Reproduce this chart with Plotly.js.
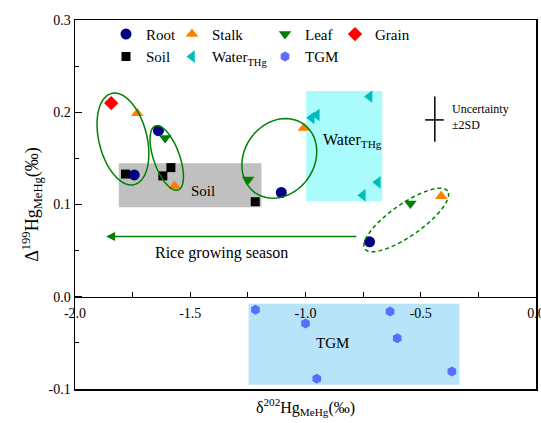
<!DOCTYPE html>
<html>
<head>
<meta charset="utf-8">
<script src="https://cdn.plot.ly/plotly-3.0.1.min.js"></script>
<style>html,body{margin:0;padding:0;background:#fff;}#chart{width:541px;height:423px;}</style>
</head>
<body>
<div id="chart"></div>
<script>
// ---- data ----
var rootX  = [-1.638, -1.743, -1.105, -0.722];
var rootY  = [0.180, 0.132, 0.113, 0.0595];
var stalkX = [-1.730, -1.568, -1.007, -0.411];
var stalkY = [0.199, 0.120, 0.183, 0.109];
var leafX  = [-1.609, -1.249, -0.545];
var leafY  = [0.172, 0.127, 0.101];
var grainX = [-1.843];
var grainY = [0.210];
var soilX  = [-1.781, -1.619, -1.584, -1.218];
var soilY  = [0.133, 0.131, 0.140, 0.103];
var waterX = [-0.722, -0.951, -0.973, -0.686, -0.751];
var waterY = [0.217, 0.197, 0.194, 0.124, 0.110];
var tgmX   = [-1.217, -1.000, -0.633, -0.602, -0.365, -0.951];
var tgmY   = [-0.014, -0.029, -0.016, -0.045, -0.081, -0.089];

var xTickVals = [-2.0, -1.5, -1.0, -0.5, 0.0];
var xTickText = ['-2.0', '-1.5', '-1.0', '-0.5', '0.0'];
var yTickVals = [-0.1, 0.0, 0.1, 0.2, 0.3];
var yTickText = ['-0.1', '0.0', '0.1', '0.2', '0.3'];

var FONT = '"Liberation Serif", "Times New Roman", serif';
var GREEN = '#008000';

// ---- traces ----
function tr(name, x, y, symbol, color, size, legend) {
  return {x: x, y: y, name: name, type: 'scatter', mode: 'markers',
    xaxis: 'x2', yaxis: 'y', legend: legend,
    marker: {symbol: symbol, color: color, size: size, line: {width: 0}}};
}
var data = [
  tr('Root', rootX, rootY, 'circle', '#000080', 11, 'legend'),
  tr('Soil', soilX, soilY, 'square', '#000000', 9, 'legend'),
  tr('Stalk', stalkX, stalkY, 'triangle-up', '#ff8000', 11, 'legend2'),
  tr('Water<sub>THg</sub>', waterX, waterY, 'triangle-left', '#00bcbc', 11, 'legend2'),
  tr('Leaf', leafX, leafY, 'triangle-down', GREEN, 11, 'legend3'),
  tr('TGM', tgmX, tgmY, 'hexagon', '#5b6cff', 10, 'legend3'),
  tr('Grain', grainX, grainY, 'diamond', '#ff0000', 11, 'legend4')
];

// ---- decorations ----
var KX = 230.5, KY = 922.5; // px per data unit
function ellipsePath(cx, cy, a, b, angDeg) {
  var th = angDeg * Math.PI / 180, p = '';
  for (var i = 0; i <= 72; i++) {
    var t = 2 * Math.PI * i / 72;
    var dx = a * Math.cos(t) * Math.cos(th) - b * Math.sin(t) * Math.sin(th);
    var dy = a * Math.cos(t) * Math.sin(th) + b * Math.sin(t) * Math.cos(th);
    p += (i === 0 ? 'M' : 'L') + (cx + dx / KX).toFixed(5) + ',' + (cy + dy / KY).toFixed(5);
  }
  return p + 'Z';
}
var shapes = [
  {type: 'rect', xref: 'x', yref: 'y', x0: -1.810, x1: -1.191, y0: 0.097, y1: 0.1447,
   fillcolor: '#c0c0c0', line: {width: 0}, layer: 'below'},
  {type: 'rect', xref: 'x', yref: 'y', x0: -0.997, x1: -0.667, y0: 0.1036, y1: 0.223,
   fillcolor: '#aafcfc', line: {width: 0}, layer: 'below'},
  {type: 'rect', xref: 'x', yref: 'y', x0: -1.247, x1: -0.332, y0: -0.0955, y1: -0.0077,
   fillcolor: '#b8e4fa', line: {width: 0}, layer: 'below'},
  {type: 'path', xref: 'x', yref: 'y', path: ellipsePath(-1.792, 0.171, 47, 24, 104), line: {color: GREEN, width: 1.5}},
  {type: 'path', xref: 'x', yref: 'y', path: ellipsePath(-1.602, 0.1504, 34, 13, 109.5), line: {color: GREEN, width: 1.5}},
  {type: 'path', xref: 'x', yref: 'y', path: ellipsePath(-1.1137, 0.150, 42, 35, 55), line: {color: GREEN, width: 1.5}},
  {type: 'path', xref: 'x', yref: 'y', path: ellipsePath(-0.563, 0.0832, 50.5, 16, 35), line: {color: GREEN, width: 1.5, dash: '4px,3px'}},
  {type: 'line', xref: 'x', yref: 'y', x0: -0.439, x1: -0.439, y0: 0.168, y1: 0.217, line: {color: '#000', width: 1.5}},
  {type: 'line', xref: 'x', yref: 'y', x0: -0.481, x1: -0.400, y0: 0.1917, y1: 0.1917, line: {color: '#000', width: 1.5}}
];
var annotations = [
  {x: -1.865, y: 0.0652, ax: -0.773, ay: 0.0652, xref: 'x', yref: 'y', axref: 'x', ayref: 'y',
   text: '', showarrow: true, arrowhead: 2, arrowsize: 1.2, arrowwidth: 1.5, arrowcolor: GREEN},
  {x: -1.366, y: 0.0472, xref: 'x', yref: 'y', text: 'Rice growing season', showarrow: false,
   font: {family: FONT, size: 16, color: '#000'}},
  {x: -1.443, y: 0.1147, xref: 'x', yref: 'y', text: 'Soil', showarrow: false,
   font: {family: FONT, size: 15, color: '#000'}},
  {x: -0.798, y: 0.169, xref: 'x', yref: 'y', text: 'Water<sub>THg</sub>', showarrow: false,
   font: {family: FONT, size: 16, color: '#000'}},
  {x: -0.883, y: -0.050, xref: 'x', yref: 'y', text: 'TGM', showarrow: false,
   font: {family: FONT, size: 15, color: '#000'}},
  {x: -0.371, y: 0.195, xref: 'x', yref: 'y', xanchor: 'left', align: 'left',
   text: 'Uncertainty<br>±2SD', showarrow: false, font: {family: FONT, size: 12, color: '#000'}}
];

function leg(xpx) {
  return {x: (xpx - 75) / 461, y: 1.006, xanchor: 'left', yanchor: 'top', bgcolor: 'rgba(0,0,0,0)',
    font: {family: FONT, size: 15, color: '#000'}, tracegroupgap: 0, itemwidth: 30};
}

var layout = {
  width: 541, height: 423,
  margin: {l: 75, r: 5, t: 20, b: 34},
  paper_bgcolor: '#fff', plot_bgcolor: '#fff',
  showlegend: true,
  font: {family: FONT, size: 14, color: '#000'},
  xaxis: {range: [-2, 0], showline: true, linecolor: '#000', linewidth: 1.5, mirror: true,
    ticks: '', showticklabels: false, showgrid: false, zeroline: false,
    title: {text: 'δ<sup>202</sup>Hg<sub>MeHg</sub>(‰)', font: {family: FONT, size: 16, color: '#000'}, standoff: 12}},
  xaxis2: {range: [-2, 0], overlaying: 'x', anchor: 'free', position: 0.25, side: 'bottom',
    showline: true, linecolor: '#000', linewidth: 1.2, ticks: 'inside', ticklen: 5, tickcolor: '#000',
    tickvals: xTickVals, ticktext: xTickText, showgrid: false, zeroline: false, ticklabelstandoff: 3,
    ticklabeloverflow: 'allow',
    minor: {dtick: 0.25, ticks: 'inside', ticklen: 5, tickcolor: '#000', showgrid: false},
    tickfont: {family: FONT, size: 14, color: '#000'}},
  yaxis: {range: [-0.1, 0.3], showline: true, linecolor: '#000', linewidth: 1.5, mirror: true,
    ticks: 'inside', ticklen: 7, tickcolor: '#000', tickvals: yTickVals, ticktext: yTickText,
    showgrid: false, zeroline: false,
    minor: {dtick: 0.05, ticks: 'inside', ticklen: 4, tickcolor: '#000', showgrid: false},
    tickfont: {family: FONT, size: 14, color: '#000'},
    title: {text: 'Δ<sup>199</sup>Hg<sub>MeHg</sub>(‰)', font: {family: FONT, size: 18, color: '#000'}, standoff: 5}},
  legend: leg(106), legend2: leg(172), legend3: leg(265), legend4: leg(335),
  shapes: shapes, annotations: annotations
};

Plotly.newPlot('chart', data, layout, {staticPlot: true, displayModeBar: false});
</script>
</body>
</html>
